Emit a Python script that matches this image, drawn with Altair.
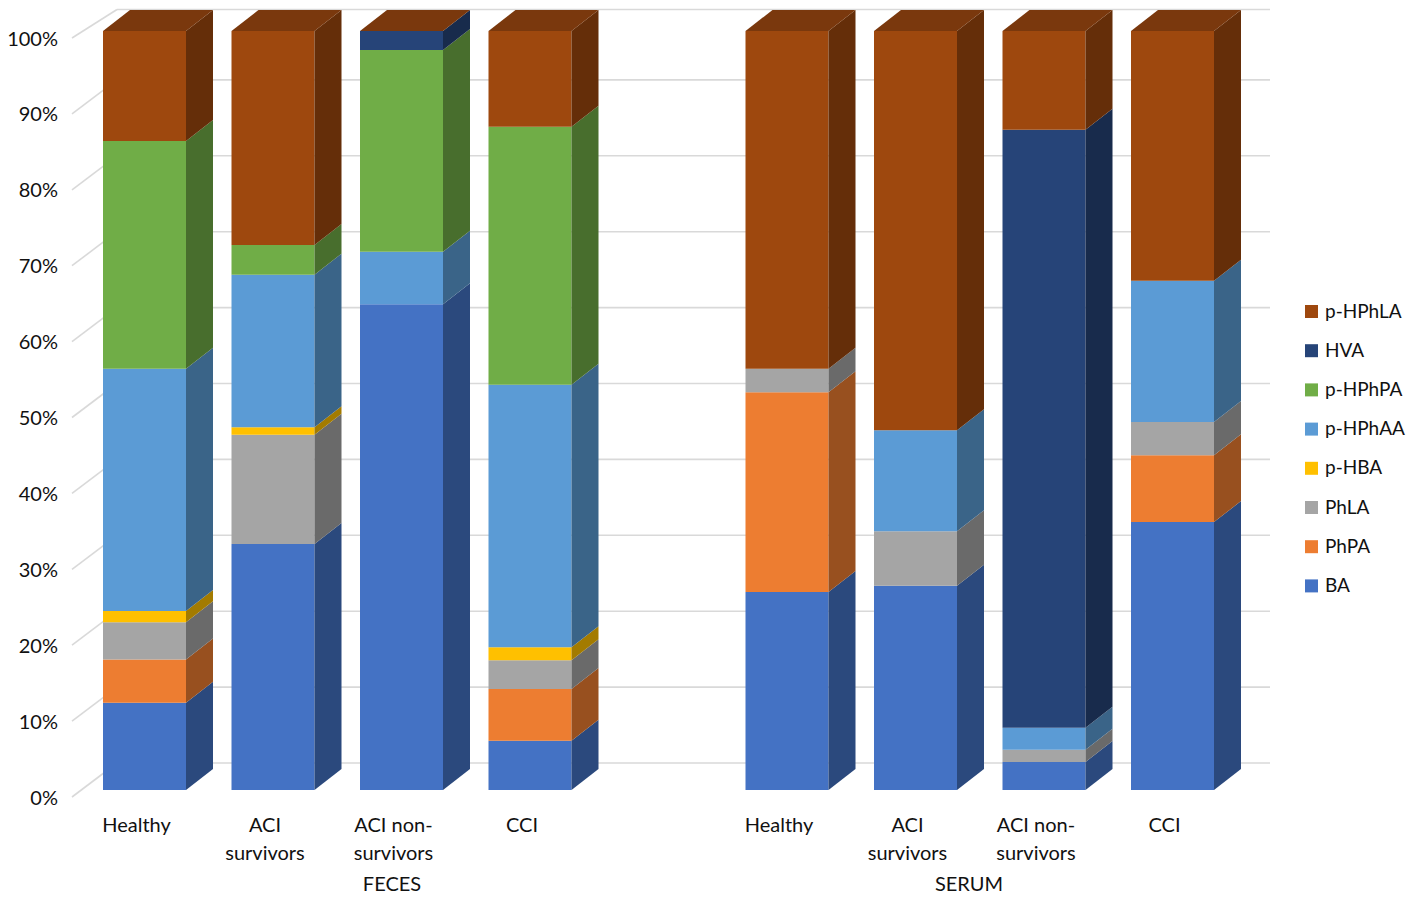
import altair as alt
import pandas as pd

# ---------------- data ----------------
groups = ["FECES", "SERUM"]
categories = ["Healthy", "ACI survivors", "ACI non-survivors", "CCI"]
cat_line1 = ["Healthy", "ACI", "ACI non-", "CCI"]
cat_line2 = ["", "survivors", "survivors", ""]

series = ["BA", "PhPA", "PhLA", "p-HBA", "p-HPhAA", "p-HPhPA", "HVA", "p-HPhLA"]
front_colors = ["#4472C4", "#ED7D31", "#A5A5A5", "#FFC000", "#5B9BD5", "#70AD47", "#264478", "#9E480E"]
side_colors = ["#2B497D", "#98501F", "#6A6A6A", "#A37B00", "#3A6488", "#486E2D", "#182B4C", "#652E09"]
top_color = "#7A380D"

# percentages per bar: FECES (Healthy, ACI surv, ACI non-surv, CCI), SERUM (same)
BA = [11.5, 32.4, 64.0, 6.5, 26.1, 26.9, 3.7, 35.3]
PhPA = [5.7, 0.0, 0.0, 6.8, 26.3, 0.0, 0.0, 8.8]
PhLA = [4.9, 14.4, 0.0, 3.8, 3.1, 7.2, 1.6, 4.4]
pHBA = [1.5, 1.0, 0.0, 1.7, 0.0, 0.0, 0.0, 0.0]
pHPhAA = [31.9, 20.1, 6.9, 34.6, 0.0, 13.3, 2.9, 18.6]
pHPhPA = [30.0, 3.9, 26.6, 34.0, 0.0, 0.0, 0.0, 0.0]
HVA = [0.0, 0.0, 2.5, 0.0, 0.0, 0.0, 78.8, 0.0]
pHPhLA = [14.5, 28.2, 0.0, 12.6, 44.5, 52.6, 13.0, 32.9]
values = [BA, PhPA, PhLA, pHBA, pHPhAA, pHPhPA, HVA, pHPhLA]

ticks = list(range(0, 101, 10))
legend_order = series[::-1]
legend_colors = front_colors[::-1]

# ---------------- layout (pixels -> data units) ----------------
W, H = 1402, 890
PX_X, X0 = 128.5, 136.5   # px per bar slot, svg x of slot 0
PX_Y, Y0 = 7.59, 782.0    # px per percent, svg y of 0 %
xdom = [(0 - X0) / PX_X, (W - X0) / PX_X]
ydom = [(Y0 - H) / PX_Y, Y0 / PX_Y]


def sx(page_x):
    return (page_x - 8 - X0) / PX_X


def ddx(px):
    return px / PX_X


def ddy(px):
    return px / PX_Y


HALF = ddx(41.5)
DX, DY = ddx(27), ddy(21)
FONT = "Lato"
TXT = "#111111"
FS = 20

slots = [0, 1, 2, 3, 5, 6, 7, 8]

fronts, sides, tops = [], [], []
for b, slot in enumerate(slots):
    lo = 0.0
    xl, xr = slot - HALF, slot + HALF
    for s, name in enumerate(series):
        v = values[s][b]
        if v <= 0:
            continue
        hi = lo + v
        fronts.append(dict(x=xl, x2=xr, y=lo, y2=hi, series=name))
        sid = f"{b}-{s}"
        sides.append(dict(id=sid, x=xr, y=lo, y2=hi, c=side_colors[s]))
        sides.append(dict(id=sid, x=xr + DX, y=lo + DY, y2=hi + DY, c=side_colors[s]))
        lo = hi
    tops.append(dict(id=b, y=lo, x=xl, x2=xr, c=top_color))
    tops.append(dict(id=b, y=lo + DY, x=xl + DX, x2=xr + DX, c=top_color))

front_df = pd.DataFrame(fronts)
side_df = pd.DataFrame(sides)
top_df = pd.DataFrame(tops)

BACK = ddy(27)
YTOP = ydom[1] - ddy(1.5)
grid_df = pd.DataFrame([dict(x=sx(117), x2=sx(1270), y=min(t + BACK, YTOP), y2=min(t + BACK, YTOP))
                        for t in ticks])
diag_df = pd.DataFrame([dict(x=sx(72), x2=sx(117), y=t - ddy(7), y2=min(t + BACK, YTOP)) for t in ticks])
ylab_df = pd.DataFrame([dict(x=sx(58), y=t - ddy(14.5), t=f"{t}%") for t in ticks])

cat_rows = []
for b, slot in enumerate(slots):
    k = b % 4
    cat_rows.append(dict(x=slot - ddx(8), y=-ddy(42), t=cat_line1[k]))
    cat_rows.append(dict(x=slot - ddx(8), y=-ddy(70), t=cat_line2[k]))
cat_df = pd.DataFrame(cat_rows)
grp_df = pd.DataFrame([
    dict(x=sx(392), y=-ddy(101), t=groups[0]),
    dict(x=sx(969), y=-ddy(101), t=groups[1]),
])

xs = alt.Scale(domain=xdom, nice=False, zero=False)
ys = alt.Scale(domain=ydom, nice=False, zero=False)


def X(f="x"):
    return alt.X(f"{f}:Q", scale=xs, axis=None)


def Y(f="y"):
    return alt.Y(f"{f}:Q", scale=ys, axis=None, stack=None)


grid = alt.Chart(grid_df).mark_rule(color="#D9D9D9", strokeWidth=1.6).encode(
    x=X(), x2="x2:Q", y=Y(), y2="y2:Q")
diag = alt.Chart(diag_df).mark_rule(color="#D9D9D9", strokeWidth=1.6).encode(
    x=X(), x2="x2:Q", y=Y(), y2="y2:Q")

front = alt.Chart(front_df).mark_rect().encode(
    x=X(), x2="x2:Q", y=Y(), y2="y2:Q",
    color=alt.Color("series:N", scale=alt.Scale(domain=legend_order, range=legend_colors),
                    legend=alt.Legend(title=None, orient="none", legendX=1294, legendY=294,
                                      symbolType="square", symbolSize=169, symbolStrokeWidth=0,
                                      labelFont=FONT, labelFontSize=19, labelColor=TXT,
                                      labelOffset=4, rowPadding=19.2, padding=0)),
)
side = alt.Chart(side_df).mark_area().encode(
    x=X(), y=Y(), y2="y2:Q", detail="id:N", color=alt.Color("c:N", scale=None))
top = alt.Chart(top_df).mark_area(orient="horizontal").encode(
    y=Y(), x=X(), x2="x2:Q", detail="id:N", color=alt.Color("c:N", scale=None))

ylab = alt.Chart(ylab_df).mark_text(align="right", baseline="alphabetic", font=FONT,
                                    fontSize=FS, color=TXT).encode(x=X(), y=Y(), text="t:N")
catlab = alt.Chart(cat_df).mark_text(align="center", baseline="alphabetic", font=FONT,
                                     fontSize=FS, color=TXT).encode(x=X(), y=Y(), text="t:N")
grplab = alt.Chart(grp_df).mark_text(align="center", baseline="alphabetic", font=FONT,
                                     fontSize=FS, color=TXT).encode(x=X(), y=Y(), text="t:N")

chart = alt.layer(grid, diag, front, side, top, ylab, catlab, grplab).properties(
    width=W, height=H, padding=0, autosize=alt.AutoSizeParams(type="none"),
    background="white",
).configure_view(stroke=None)

chart.save("out.html", embed_options={"renderer": "svg", "actions": False})
